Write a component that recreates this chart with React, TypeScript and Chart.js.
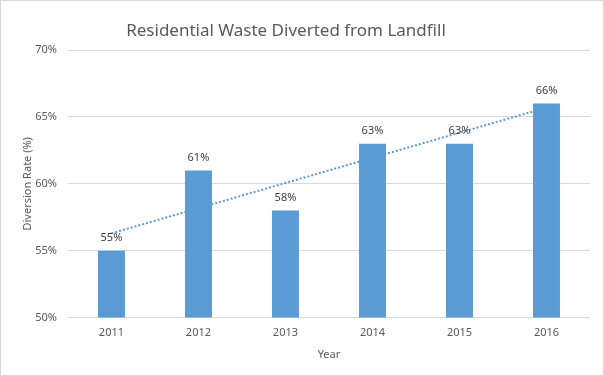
import React, { useEffect, useRef } from "react";
import { Chart, registerables } from "chart.js";

Chart.register(...registerables);

const years = ["2011", "2012", "2013", "2014", "2015", "2016"];
const diversionRate = [55, 61, 58, 63, 63, 66];
// Linear trendline endpoints
const trendValues = [56.3, null, null, null, null, 65.7];
const yTicks = [50, 55, 60, 65, 70];

const TITLE = "Residential Waste Diverted from Landfill";
const FONT = "'Noto Sans', 'Liberation Sans', sans-serif";
const BAR = "#5B9BD5";
const TEXT = "#595959";

const titlePlugin = {
  id: "customTitle",
  afterDraw(chart: any) {
    const ctx = chart.ctx;
    ctx.save();
    ctx.font = `17px ${FONT}`;
    ctx.fillStyle = TEXT;
    ctx.textAlign = "center";
    ctx.textBaseline = "middle";
    ctx.fillText(TITLE, 285, 30);
    ctx.restore();
  },
};

const labelPlugin = {
  id: "barLabels",
  afterDatasetsDraw(chart: any) {
    const ctx = chart.ctx;
    const meta = chart.getDatasetMeta(1);
    ctx.save();
    ctx.font = `11px ${FONT}`;
    ctx.fillStyle = "#404040";
    ctx.textAlign = "center";
    ctx.textBaseline = "bottom";
    meta.data.forEach((el: any, i: number) => {
      ctx.fillText(diversionRate[i] + "%", el.x, el.y - 7);
    });
    ctx.restore();
  },
};

export default function App() {
  const ref = useRef<HTMLCanvasElement>(null);
  useEffect(() => {
    document.body.style.margin = "0";
    const chart = new Chart(ref.current!, {
      type: "bar",
      data: {
        labels: years,
        datasets: [
          {
            type: "line",
            data: trendValues as any,
            borderColor: BAR,
            borderWidth: 2,
            borderDash: [2, 2],
            pointRadius: 0,
            spanGaps: true,
            fill: false,
            order: 0,
          } as any,
          {
            type: "bar",
            data: diversionRate,
            backgroundColor: BAR,
            barPercentage: 0.62,
            categoryPercentage: 0.5,
            order: 1,
          },
        ],
      },
      options: {
        animation: false,
        responsive: false,
        layout: { padding: { top: 49, right: 13, left: 20, bottom: 14 } },
        plugins: {
          legend: { display: false },
          title: { display: false },
          tooltip: { enabled: false },
        },
        scales: {
          x: {
            grid: { display: false },
            border: { display: false },
            ticks: { color: TEXT, font: { family: FONT, size: 11 }, padding: 1 },
            title: {
              display: true,
              text: "Year",
              color: TEXT,
              font: { family: FONT, size: 11 },
              padding: { top: 7, bottom: 0 },
            },
          },
          y: {
            min: 50,
            max: 70,
            afterBuildTicks(axis: any) {
              axis.ticks = yTicks.map((v) => ({ value: v }));
            },
            grid: { color: "#D9D9D9", drawTicks: false, lineWidth: 1 },
            border: { display: false },
            ticks: {
              color: TEXT,
              font: { family: FONT, size: 11 },
              padding: 11,
              callback: (v: any) => v + "%",
            },
            title: {
              display: true,
              text: "Diversion Rate (%)",
              color: TEXT,
              font: { family: FONT, size: 11 },
              padding: { top: 0, bottom: -10 },
            },
          },
        },
      },
      plugins: [titlePlugin, labelPlugin],
    });
    return () => chart.destroy();
  }, []);
  return (
    <div
      style={{
        position: "absolute",
        left: 0,
        top: 0,
        width: 604,
        height: 376,
        boxSizing: "border-box",
        border: "1px solid #D9D9D9",
        background: "#fff",
      }}
    >
      <canvas ref={ref} width={602} height={374} />
    </div>
  );
}
